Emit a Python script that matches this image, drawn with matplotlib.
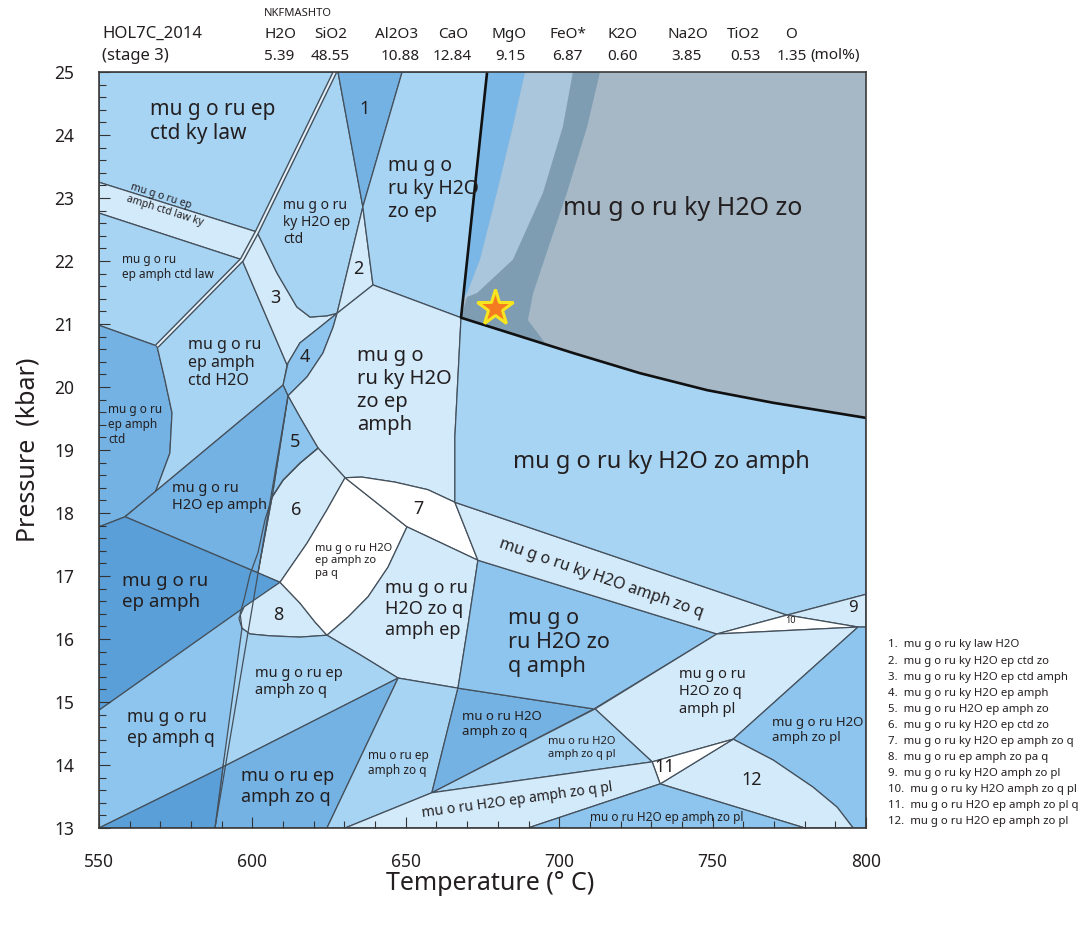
import matplotlib.pyplot as plt
from matplotlib.patches import Polygon
from matplotlib.ticker import MultipleLocator

plt.rcParams['font.family'] = ['Noto Sans', 'DejaVu Sans']

# bulk composition (mol%)
oxides = ['H2O', 'SiO2', 'Al2O3', 'CaO', 'MgO', 'FeO*', 'K2O', 'Na2O', 'TiO2', 'O']
mol_pct = ['5.39', '48.55', '10.88', '12.84', '9.15', '6.87', '0.60', '3.85', '0.53', '1.35']

# numbered small fields
small_fields = [
    'mu g o ru ky law H2O',
    'mu g o ru ky H2O ep ctd zo',
    'mu g o ru ky H2O ep ctd amph',
    'mu g o ru ky H2O ep amph',
    'mu g o ru H2O ep amph zo',
    'mu g o ru ky H2O ep ctd zo',
    'mu g o ru ky H2O ep amph zo q',
    'mu g o ru ep amph zo pa q',
    'mu g o ru ky H2O amph zo pl',
    'mu g o ru ky H2O amph zo q pl',
    'mu g o ru H2O ep amph zo pl q',
    'mu g o ru H2O ep amph zo pl',
]

# field outlines as (T degC, P kbar)
f_ep_ctd_ky_law = [(550, 25), (626.9, 25), (601.5, 22.46), (550, 23.25)]
f_ep_amph_ctd_law_ky = [(550, 23.25), (601.5, 22.46), (596.6, 22.02), (550, 22.76)]
f_ep_amph_ctd_law = [(550, 22.76), (596.6, 22.02), (568.9, 20.65), (550, 20.98)]
f_ep_amph_ctd = [(550, 20.98), (568.9, 20.65), (571.5, 20.11), (573.8, 19.59), (573.1, 18.95),
                 (568.3, 18.32), (558.5, 17.94), (550, 17.78)]
f_ep_amph_ctd_h2o = [(568.9, 20.65), (596.6, 22.02), (611.3, 20.35), (610.0, 20.03), (558.5, 17.94),
                     (568.3, 18.32), (573.1, 18.95), (573.8, 19.59), (571.5, 20.11)]
f_3 = [(601.5, 22.46), (608.0, 21.81), (614.5, 21.27), (618.8, 21.11), (624.3, 21.13), (627.6, 21.17),
       (622.0, 20.95), (615.5, 20.70), (611.6, 20.38), (611.3, 20.35), (596.6, 22.02)]
f_ky_h2o_ep_ctd = [(626.9, 25), (627.9, 25), (636.0, 22.86), (627.6, 21.17), (624.3, 21.13),
                   (618.8, 21.11), (614.5, 21.27), (608.0, 21.81), (601.5, 22.46)]
f_1 = [(627.9, 25), (648.8, 25), (636.0, 22.86)]
f_2 = [(636.0, 22.86), (639.3, 21.62), (627.6, 21.17)]
f_ky_h2o_zo_ep = [(648.8, 25), (676.5, 25), (668.0, 21.10), (639.3, 21.62), (636.0, 22.86)]
f_4 = [(627.6, 21.17), (622.0, 20.95), (615.5, 20.70), (611.6, 20.38), (610.0, 20.03), (611.6, 19.86),
       (617.8, 20.16), (623.0, 20.54), (626.3, 20.95)]
f_ky_h2o_zo_ep_amph = [(639.3, 21.62), (668.0, 21.10), (666.0, 19.21), (666.0, 18.17), (657.2, 18.37),
                       (646.5, 18.49), (635.7, 18.57), (630.2, 18.56), (621.4, 19.03), (615.5, 19.52),
                       (611.6, 19.86), (617.8, 20.16), (623.0, 20.54), (626.3, 20.95), (627.6, 21.17)]
f_5 = [(611.6, 19.86), (615.5, 19.52), (621.4, 19.03), (615.5, 18.79), (610.0, 18.52), (606.4, 18.25)]
f_6 = [(621.4, 19.03), (630.2, 18.56), (624.3, 18.05), (617.8, 17.52), (609.0, 16.90), (601.8, 17.05),
       (606.4, 18.25), (610.0, 18.52), (615.5, 18.79)]
f_h2o_ep_amph = [(558.5, 17.94), (610.0, 20.03), (611.6, 19.86), (606.4, 18.25), (601.8, 17.05)]
f_ep_amph = [(550, 17.78), (558.5, 17.94), (601.8, 17.05), (609.0, 16.90), (550, 14.87)]
f_ep_amph_q = [(550, 14.87), (599.9, 16.59), (598.6, 16.14), (590.4, 13.97), (550, 13.0)]
f_8 = [(609.0, 16.90), (615.5, 16.57), (620.4, 16.27), (624.3, 16.06), (615.5, 16.03), (605.7, 16.05),
       (599.2, 16.08), (596.6, 16.17), (595.6, 16.33), (597.3, 16.51)]
f_pa_q = [(630.2, 18.56), (650.4, 17.78), (644.2, 17.14), (637.7, 16.67), (631.2, 16.35), (624.3, 16.06),
          (620.4, 16.27), (615.5, 16.57), (609.0, 16.90), (617.8, 17.52), (624.3, 18.05)]
f_7 = [(630.2, 18.56), (635.7, 18.57), (646.5, 18.49), (657.2, 18.37), (666.0, 18.17), (673.5, 17.25),
       (650.4, 17.78)]
f_h2o_zo_q_amph_ep = [(650.4, 17.78), (673.5, 17.25), (670.3, 16.22), (667.0, 15.22), (647.5, 15.38),
                      (635.1, 15.75), (624.3, 16.06), (631.2, 16.35), (637.7, 16.67), (644.2, 17.14)]
f_ep_amph_zo_q = [(596.6, 16.17), (599.2, 16.08), (605.7, 16.05), (615.5, 16.03), (624.3, 16.06),
                  (635.1, 15.75), (647.5, 15.38), (590.4, 13.97)]
f_mo_ep_amph_zo_q = [(590.4, 13.97), (647.5, 15.38), (624.3, 13.0), (587.8, 13.0)]
f_corner = [(550, 13.0), (590.4, 13.97), (587.8, 13.0)]
f_mo_ep_amph_zo_q_small = [(647.5, 15.38), (667.0, 15.22), (658.5, 13.56), (630.2, 13.0), (624.3, 13.0)]
f_mo_h2o_amph_zo_q = [(667.0, 15.22), (711.3, 14.89), (658.5, 13.56)]
f_h2o_zo_q_amph = [(673.5, 17.25), (751.4, 16.08), (711.3, 14.89), (667.0, 15.22), (670.3, 16.22)]
f_ky_h2o_amph_zo_q = [(666.0, 18.17), (774.3, 16.38), (751.4, 16.08), (673.5, 17.25)]
f_ky_h2o_zo_amph = [(668.0, 21.10), (683.0, 20.87), (704.5, 20.54), (726.3, 20.22), (748.2, 19.95),
                    (769.7, 19.75), (800, 19.51), (800, 16.71), (774.3, 16.38), (666.0, 18.17),
                    (666.0, 19.21)]
f_9 = [(774.3, 16.38), (800, 16.71), (800, 16.19), (797.4, 16.19)]
f_10 = [(751.4, 16.08), (774.3, 16.38), (797.4, 16.19)]
f_h2o_zo_q_amph_pl = [(751.4, 16.08), (797.4, 16.19), (756.7, 14.41), (730.3, 14.05), (711.7, 14.89)]
f_h2o_amph_zo_pl = [(797.4, 16.19), (800, 16.19), (800, 13.0), (795.8, 13.0), (790.6, 13.33),
                    (782.7, 13.65), (769.7, 14.08), (756.7, 14.41)]
f_12 = [(756.7, 14.41), (769.7, 14.08), (782.7, 13.65), (790.6, 13.33), (795.8, 13.0), (780.1, 13.0),
        (732.9, 13.70)]
f_11 = [(730.3, 14.05), (756.7, 14.41), (732.9, 13.70)]
f_mo_h2o_amph_zo_q_pl = [(658.5, 13.56), (711.7, 14.89), (730.3, 14.05)]
f_mo_h2o_ep_amph_zo_q_pl = [(630.2, 13.0), (658.5, 13.56), (730.3, 14.05), (732.9, 13.70), (689.8, 13.0)]
f_mo_h2o_ep_amph_zo_pl = [(689.8, 13.0), (732.9, 13.70), (780.1, 13.0)]

# high-T field and its shaded bands
f_ky_h2o_zo = [(676.5, 25), (800, 25), (800, 19.51), (769.7, 19.75), (748.2, 19.95), (726.3, 20.22),
               (704.5, 20.54), (683.0, 20.87), (668.0, 21.10)]
band_blue = [(676.5, 25), (688.9, 25), (684.9, 24.13), (679.7, 23.08), (674.2, 22.02), (670.0, 21.49),
             (668.6, 21.38)]
band_pale = [(688.9, 25), (704.5, 25), (701.2, 24.13), (694.7, 23.08), (684.9, 22.02), (673.2, 21.49),
             (670.0, 21.43), (668.6, 21.38), (670.0, 21.49), (674.2, 22.02), (679.7, 23.08), (684.9, 24.13)]
band_dark = [(704.5, 25), (713.3, 25), (709.1, 24.13), (702.5, 23.08), (697.0, 22.29), (691.5, 21.49),
             (689.8, 21.06), (695.4, 20.70), (683.0, 20.87), (668.0, 21.10), (670.0, 21.43),
             (673.2, 21.49), (684.9, 22.02), (694.7, 23.08), (701.2, 24.13)]

# heavy reaction line bounding the high-T field
heavy_T = [676.5, 668.0, 683.0, 704.5, 726.3, 748.2, 769.7, 800]
heavy_P = [25, 21.10, 20.87, 20.54, 20.22, 19.95, 19.75, 19.51]
# double (ctd-out) line
double_T = [626.9, 601.5, 596.6, 568.9]
double_P = [25, 22.46, 22.02, 20.65]
# other boundaries
long_T = [611.6, 587.8]
long_P = [19.86, 13.0]
curve_T = [621.4, 615.5, 610.0, 606.4, 604.1, 601.8, 599.2, 597.3, 596.0, 596.6]
curve_P = [19.03, 18.79, 18.52, 18.25, 17.89, 17.37, 17.02, 16.63, 16.40, 16.17]

# sample P-T estimate
star_T, star_P = 679.1, 21.25

VLIGHT = '#d3eafa'
WHITE = '#ffffff'
LIGHT = '#a8d4f4'
MED = '#8ec5ee'
MEDDARK = '#74b2e4'
DARK = '#5a9fd8'
EDGE = '#44505b'
TXT = '#231f20'

fields = [
    (f_ep_ctd_ky_law, LIGHT), (f_ep_amph_ctd_law_ky, VLIGHT), (f_ep_amph_ctd_law, LIGHT),
    (f_ep_amph_ctd, MEDDARK), (f_ep_amph_ctd_h2o, LIGHT), (f_3, VLIGHT), (f_ky_h2o_ep_ctd, LIGHT),
    (f_1, MEDDARK), (f_2, VLIGHT), (f_ky_h2o_zo_ep, LIGHT), (f_4, MED),
    (f_ky_h2o_zo_ep_amph, VLIGHT), (f_5, MED), (f_6, VLIGHT), (f_h2o_ep_amph, MEDDARK),
    (f_ep_amph, DARK), (f_ep_amph_q, MED), (f_8, VLIGHT), (f_pa_q, WHITE), (f_7, WHITE),
    (f_h2o_zo_q_amph_ep, VLIGHT), (f_ep_amph_zo_q, LIGHT), (f_mo_ep_amph_zo_q, MEDDARK),
    (f_corner, DARK), (f_mo_ep_amph_zo_q_small, LIGHT), (f_mo_h2o_amph_zo_q, MEDDARK),
    (f_h2o_zo_q_amph, MED), (f_ky_h2o_amph_zo_q, VLIGHT), (f_ky_h2o_zo_amph, LIGHT),
    (f_9, VLIGHT), (f_10, WHITE), (f_h2o_zo_q_amph_pl, VLIGHT), (f_h2o_amph_zo_pl, MED),
    (f_12, VLIGHT), (f_11, WHITE), (f_mo_h2o_amph_zo_q_pl, LIGHT),
    (f_mo_h2o_ep_amph_zo_q_pl, VLIGHT), (f_mo_h2o_ep_amph_zo_pl, MED),
]

fig = plt.figure(figsize=(10.89, 9.35), dpi=100)
ax = fig.add_axes([99 / 1089, 1 - 828 / 935, 767 / 1089, 756 / 935])
ax.set_xlim(550, 800)
ax.set_ylim(13, 25)

for verts, col in fields:
    ax.add_patch(Polygon(verts, closed=True, facecolor=col, edgecolor=EDGE, lw=0.9,
                         joinstyle='round', zorder=1))

# grey high-T field, no internal edges between the shaded bands
ax.add_patch(Polygon(f_ky_h2o_zo, closed=True, facecolor='#a6b8c6', edgecolor='none', zorder=1.2))
ax.add_patch(Polygon(band_blue, closed=True, facecolor='#7ab7e7', edgecolor='none', zorder=1.3))
ax.add_patch(Polygon(band_pale, closed=True, facecolor='#a9c6dc', edgecolor='none', zorder=1.3))
ax.add_patch(Polygon(band_dark, closed=True, facecolor='#7f9db2', edgecolor='none', zorder=1.3))

ax.plot(long_T, long_P, color=EDGE, lw=0.9, zorder=1.5)
ax.plot(curve_T, curve_P, color=EDGE, lw=0.9, zorder=1.5)
ax.plot(double_T, double_P, color=EDGE, lw=3.4, zorder=1.6, solid_capstyle='butt')
ax.plot(double_T, double_P, color='#e6f3fc', lw=1.4, zorder=1.7, solid_capstyle='butt')
ax.plot(heavy_T, heavy_P, color='#111111', lw=1.9, zorder=1.8)

ax.plot(star_T, star_P, marker='*', ms=27, mfc='#f47b20', mec='#f6e51f', mew=2.2, zorder=3)

# field labels: text, T, P, size, rotation, centred
labels = [
    ('mu g o ru ep\nctd ky law', 566.6, 24.21, 15, 0, False),
    ('1', 636.7, 24.42, 13, 0, True),
    ('mu g o\nru ky H2O\nzo ep', 644.3, 23.14, 14, 0, False),
    ('mu g o ru ky H2O zo', 740.1, 22.83, 18, 0, True),
    ('mu g o ru\nky H2O ep\nctd', 610.1, 22.61, 10, 0, False),
    ('mu g o ru ep\namph ctd law ky', 572.2, 22.89, 7.5, -17.6, True),
    ('mu g o ru\nep amph ctd law', 557.4, 21.90, 8.5, 0, False),
    ('2', 634.5, 21.88, 13, 0, True),
    ('3', 607.4, 21.41, 13, 0, True),
    ('4', 617.1, 20.48, 13, 0, True),
    ('mu g o\nru ky H2O\nzo ep\namph', 634.0, 19.95, 14.5, 0, False),
    ('mu g o ru\nep amph\nctd H2O', 579.1, 20.38, 11.5, 0, False),
    ('mu g o ru\nep amph\nctd', 553.0, 19.40, 8.5, 0, False),
    ('5', 613.9, 19.13, 13, 0, True),
    ('6', 614.4, 18.05, 13, 0, True),
    ('mu g o ru\nH2O ep amph', 573.7, 18.25, 10.5, 0, False),
    ('7', 654.1, 18.07, 13, 0, True),
    ('8', 608.4, 16.38, 13, 0, True),
    ('mu g o ru H2O\nep amph zo\npa q', 620.4, 17.24, 8, 0, False),
    ('mu g o ru ky H2O zo amph', 733.4, 18.81, 17, 0, True),
    ('mu g o ru\nep amph', 557.4, 16.75, 13.5, 0, False),
    ('mu g o ru\nH2O zo q\namph ep', 643.2, 16.48, 13, 0, False),
    ('mu g o\nru H2O zo\nq amph', 683.4, 15.94, 15.5, 0, False),
    ('mu g o ru ky H2O amph zo q', 713.8, 16.96, 11.5, -19, True),
    ('10', 775.2, 16.30, 6.5, 0, True),
    ('9', 795.9, 16.49, 12, 0, True),
    ('mu g o ru ep\namph zo q', 600.9, 15.32, 10.5, 0, False),
    ('mu g o ru\nH2O zo q\namph pl', 739.1, 15.16, 10.5, 0, False),
    ('mu g o ru\nep amph q', 559.0, 14.59, 12.5, 0, False),
    ('mu o ru H2O\namph zo q', 668.2, 14.65, 9.5, 0, False),
    ('mu g o ru H2O\namph zo pl', 769.3, 14.55, 9.5, 0, False),
    ('mu o ru ep\namph zo q', 637.8, 14.03, 8.5, 0, False),
    ('mu o ru H2O\namph zo q pl', 696.4, 14.27, 8, 0, False),
    ('11', 734.5, 13.97, 13, 0, True),
    ('12', 762.7, 13.76, 13, 0, True),
    ('mu o ru ep\namph zo q', 596.2, 13.66, 13, 0, False),
    ('mu o ru H2O ep amph zo q pl', 686.2, 13.44, 10, 7.8, True),
    ('mu o ru H2O ep amph zo pl', 735.2, 13.17, 8.5, 0, True),
]
for txt, t, p, size, rot, centred in labels:
    ax.text(t, p, txt, fontsize=size, rotation=rot, color=TXT, zorder=4,
            ha='center' if centred else 'left', va='center', multialignment='left',
            rotation_mode='anchor', linespacing=1.2)

ax.xaxis.set_major_locator(MultipleLocator(50))
ax.xaxis.set_minor_locator(MultipleLocator(10))
ax.yaxis.set_major_locator(MultipleLocator(1))
ax.yaxis.set_minor_locator(MultipleLocator(0.2))
ax.tick_params(which='both', direction='in', top=False, right=False, color='#333333', width=0.8,
               labelsize=12.5, labelcolor=TXT)
ax.tick_params(which='major', length=8)
ax.tick_params(which='minor', length=5)
ax.xaxis.set_tick_params(which='major', pad=18)
ax.yaxis.set_tick_params(which='major', pad=18)
for s in ax.spines.values():
    s.set_linewidth(1.2)
    s.set_color('#3a3a3a')
    s.set_zorder(5)

fig.text(28 / 1089, 1 - 450 / 935, 'Pressure  (kbar)', rotation=90, fontsize=18,
         ha='center', va='center', color=TXT)
fig.text(490 / 1089, 1 - 884 / 935, 'Temperature (° C)', fontsize=18,
         ha='center', va='center', color=TXT)

# header: sample, system and bulk composition
fig.text(102 / 1089, 1 - 34 / 935, 'HOL7C_2014', fontsize=12, va='center', color=TXT)
fig.text(102 / 1089, 1 - 56 / 935, '(stage 3)', fontsize=12, va='center', color=TXT)
fig.text(264 / 1089, 1 - 14 / 935, 'NKFMASHTO', fontsize=8, va='center', color=TXT)
ox_x = [280, 331, 397, 453, 509, 568, 623, 688, 743, 791]
val_x = [279, 330, 400, 452, 510, 567, 623, 686, 745, 792]
for name, val, xo, xv in zip(oxides, mol_pct, ox_x, val_x):
    fig.text(xo / 1089, 1 - 35 / 935, name, fontsize=11, ha='center', va='center', color=TXT)
    fig.text(xv / 1089, 1 - 56 / 935, val, fontsize=11, ha='center', va='center', color=TXT)
fig.text(810 / 1089, 1 - 56 / 935, '(mol%)', fontsize=11, va='center', color=TXT)

# key to numbered fields
for i, name in enumerate(small_fields):
    fig.text(888 / 1089, 1 - (645 + 16.06 * i) / 935, f'{i + 1}.  {name}', fontsize=8.2,
             va='center', color=TXT)

fig.savefig('out.png', dpi=100)
